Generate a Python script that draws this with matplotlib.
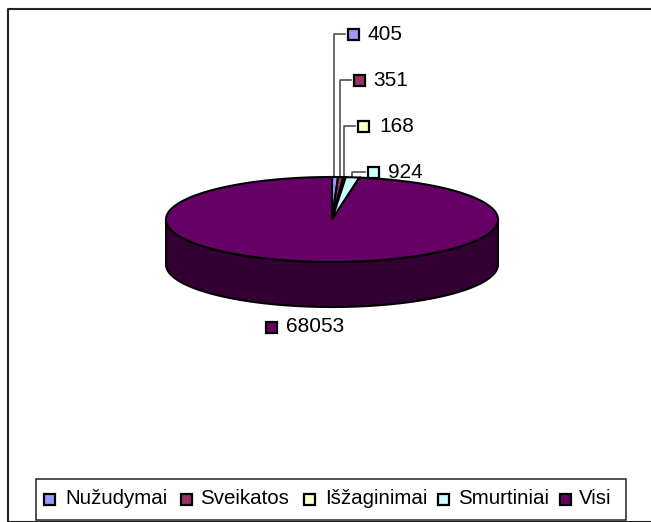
import numpy as np
import matplotlib
matplotlib.use("Agg")
import matplotlib.pyplot as plt
from matplotlib.patches import Polygon, Rectangle

plt.rcParams['font.family'] = ['Liberation Sans', 'DejaVu Sans']

categories = ["Nužudymai", "Sveikatos", "Išžaginimai", "Smurtiniai", "Visi"]
values = [405, 351, 168, 924, 68053]
colors = ["#9999ff", "#993366", "#ffffcc", "#ccffff", "#660066"]
side_color = "#330033"

W, H = 651, 522
cx, cy, rx, ry, depth = 332, 219.5, 166, 42.5, 45


def rim(t0, t1, n=200):
    # angles are clockwise from the top of the pie
    t = np.linspace(t0, t1, n)
    return cx + rx * np.sin(t), cy - ry * np.cos(t)


fig = plt.figure(figsize=(W / 100, H / 100), dpi=100)
ax = fig.add_axes([0, 0, 1, 1])
ax.set_xlim(0, W)
ax.set_ylim(H, 0)
ax.axis('off')

# outer chart frame, runs off the right edge
ax.plot([800, 7.5, 7.5, 800], [8.5, 8.5, 521.5, 521.5], color='#222222', lw=1.5, zorder=1)

# side wall, only the front half shows
x, y = rim(np.pi / 2, 3 * np.pi / 2)
ax.add_patch(Polygon(np.r_[np.c_[x, y], np.c_[x[::-1], y[::-1] + depth]],
                     fc=side_color, ec='black', lw=1.5, zorder=2))

# top slices
edges = np.r_[0, np.cumsum(values)] / np.sum(values) * 2 * np.pi
for i in range(len(values)):
    x, y = rim(edges[i], edges[i + 1])
    ax.add_patch(Polygon(np.r_[[[cx, cy]], np.c_[x, y]],
                         fc=colors[i], ec='black', lw=1.5, zorder=3))

# data labels with leader lines
label_x = [353, 359, 363, 373, 271]
label_y = [34, 80, 126, 172, 327]
text_x = [368, 373, 379, 388, 286]
elbow_x = [333.5, 340, 344, 352]
for i, v in enumerate(values):
    lx, ly = label_x[i], label_y[i]
    if i < len(elbow_x):
        ax.plot([elbow_x[i], elbow_x[i], lx - 8], [177, ly, ly], color='#444444', lw=1.1, zorder=2.5)
    ax.add_patch(Rectangle((lx - 5.5, ly - 5.5), 11, 11, fc=colors[i], ec='black', lw=1.6, zorder=4))
    ax.text(text_x[i], ly, str(v), fontsize=15, va='center', ha='left', color='black', zorder=5)

# legend
ax.add_patch(Rectangle((35.5, 478.5), 590, 41.5, fc='white', ec='#222222', lw=1.1, zorder=4))
legend_x = [49, 186, 309, 443.5, 565]
legend_text_x = [65, 200, 325, 458, 579]
for i, name in enumerate(categories):
    ax.add_patch(Rectangle((legend_x[i] - 5.5, 493.5), 11, 11, fc=colors[i], ec='black', lw=1.6, zorder=5))
    ax.text(legend_text_x[i], 498.5, name, fontsize=14.8, va='center', ha='left', color='black', zorder=5)

fig.savefig("out.png", dpi=100)
